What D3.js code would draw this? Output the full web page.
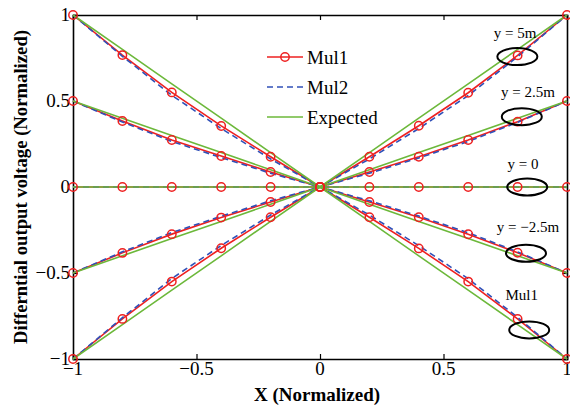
<!DOCTYPE html>
<html>
<head>
<meta charset="utf-8">
<script src="https://cdn.jsdelivr.net/npm/d3@7"></script>
<style>
  body { margin: 0; background: #fff; }
</style>
</head>
<body>
<div id="chart"></div>
<script>
// x positions of the sample points
var xValues = [-1, -0.8, -0.6, -0.4, -0.2, 0, 0.2, 0.4, 0.6, 0.8, 1];

// Mul1 (red, circles) - one row per curve
var mul1Curves = [
  [-1, -0.767, -0.55, -0.356, -0.176, 0, 0.176, 0.356, 0.548, 0.765, 1],
  [-0.5, -0.383, -0.274, -0.178, -0.087, 0, 0.087, 0.176, 0.273, 0.38, 0.5],
  [0, 0, 0, 0, 0, 0, 0, 0, 0, 0, 0],
  [0.5, 0.384, 0.273, 0.18, 0.087, 0, -0.087, -0.176, -0.275, -0.382, -0.5],
  [1, 0.767, 0.55, 0.355, 0.176, 0, -0.176, -0.357, -0.55, -0.767, -1]
];

// Mul2 (blue dashed)
var mul2Curves = [
  [-1, -0.76, -0.532, -0.34, -0.163, 0, 0.163, 0.34, 0.532, 0.757, 1],
  [-0.5, -0.377, -0.265, -0.17, -0.08, 0, 0.08, 0.169, 0.265, 0.376, 0.5],
  [0, 0, 0, 0, 0, 0, 0, 0, 0, 0, 0],
  [0.5, 0.378, 0.265, 0.171, 0.08, 0, -0.08, -0.169, -0.266, -0.377, -0.5],
  [1, 0.76, 0.533, 0.34, 0.163, 0, -0.163, -0.341, -0.533, -0.758, -1]
];

// Expected (green)
var expectedCurves = [
  [-1, -0.8, -0.6, -0.4, -0.2, 0, 0.2, 0.4, 0.6, 0.8, 1],
  [-0.5, -0.4, -0.3, -0.2, -0.1, 0, 0.1, 0.2, 0.3, 0.4, 0.5],
  [0, 0, 0, 0, 0, 0, 0, 0, 0, 0, 0],
  [0.5, 0.4, 0.3, 0.2, 0.1, 0, -0.1, -0.2, -0.3, -0.4, -0.5],
  [1, 0.8, 0.6, 0.4, 0.2, 0, -0.2, -0.4, -0.6, -0.8, -1]
];

var tickValues = [-1, -0.5, 0, 0.5, 1];
var seriesNames = ["Mul1", "Mul2", "Expected"];

// annotation labels and ellipses (data coords)
var noteTexts = ["y = 5m", "y = 2.5m", "y = 0", "y = \u22122.5m", "Mul1"];
var noteTextX = [0.79, 0.842, 0.822, 0.842, 0.817];
var noteTextY = [0.866, 0.523, 0.105, -0.262, -0.657];
var ellipseX = [0.799, 0.817, 0.839, 0.834, 0.847];
var ellipseY = [0.758, 0.409, 0, -0.385, -0.831];

var width = 570, height = 405;
var margin = {left: 73, right: 3, top: 15, bottom: 46};
var serif = "'Liberation Serif', 'Times New Roman', Times, 'DejaVu Serif', serif";

var colRed = "#ee2020", colBlue = "#3050b8", colGreen = "#6cb83a";

var svg = d3.select("#chart").append("svg")
  .attr("width", width).attr("height", height)
  .attr("font-family", serif);

var x = d3.scaleLinear().domain([-1, 1]).range([margin.left, width - margin.right]);
var y = d3.scaleLinear().domain([-1, 1]).range([height - margin.bottom, margin.top]);

var fmt = function (d) { return d === 0 ? "0" : d3.format("")(d).replace("-", "\u2212"); };

// axes: ticks pointing inward, box all round
svg.append("g").attr("transform", "translate(0," + y(-1) + ")")
  .call(d3.axisTop(x).tickValues(tickValues).tickSize(5).tickFormat(""));
svg.append("g").attr("transform", "translate(0," + y(1) + ")")
  .call(d3.axisBottom(x).tickValues(tickValues).tickSize(5).tickFormat(""));
svg.append("g").attr("transform", "translate(" + x(-1) + ",0)")
  .call(d3.axisRight(y).tickValues(tickValues).tickSize(5).tickFormat(""));
svg.append("g").attr("transform", "translate(" + x(1) + ",0)")
  .call(d3.axisLeft(y).tickValues(tickValues).tickSize(5).tickFormat(""));
svg.selectAll(".domain").attr("stroke", "#000").attr("stroke-width", 1.6);
svg.selectAll(".tick line").attr("stroke", "#000").attr("stroke-width", 1.2);

// tick labels
svg.append("g").selectAll("text").data(tickValues).enter().append("text")
  .attr("x", function (d) { return x(d); })
  .attr("y", y(-1) + 16)
  .attr("text-anchor", "middle")
  .attr("font-family", serif)
  .attr("font-size", 19)
  .text(fmt);
svg.append("g").selectAll("text").data(tickValues).enter().append("text")
  .attr("x", x(-1) - 3)
  .attr("y", function (d) { return y(d) + 6; })
  .attr("text-anchor", "end")
  .attr("font-family", serif)
  .attr("font-size", 19)
  .text(fmt);

// axis titles
svg.append("text")
  .attr("x", (x(-1) + x(1)) / 2 - 3)
  .attr("y", 401)
  .attr("text-anchor", "middle")
  .attr("font-family", serif)
  .attr("font-size", 19).attr("font-weight", "bold")
  .text("X (Normalized)");
svg.append("text")
  .attr("transform", "translate(27," + y(0) + ") rotate(-90)")
  .attr("text-anchor", "middle")
  .attr("font-family", serif)
  .attr("font-size", 18.7).attr("font-weight", "bold")
  .text("Differntial output voltage (Normalized)");

var line = d3.line()
  .x(function (d, i) { return x(xValues[i]); })
  .y(function (d) { return y(d); });

var plot = svg.append("g");

plot.selectAll(".mul1").data(mul1Curves).enter().append("path")
  .attr("class", "mul1")
  .attr("d", line).attr("fill", "none")
  .attr("stroke", colRed).attr("stroke-width", 1.6);

plot.selectAll(".mul2").data(mul2Curves).enter().append("path")
  .attr("class", "mul2")
  .attr("d", line).attr("fill", "none")
  .attr("stroke", colBlue).attr("stroke-width", 1.6)
  .attr("stroke-dasharray", "6,4");

plot.selectAll(".expected").data(expectedCurves).enter().append("path")
  .attr("class", "expected")
  .attr("d", line).attr("fill", "none")
  .attr("stroke", colGreen).attr("stroke-width", 1.6);

// Mul1 markers
mul1Curves.forEach(function (curve) {
  plot.append("g").selectAll("circle").data(curve).enter().append("circle")
    .attr("cx", function (d, i) { return x(xValues[i]); })
    .attr("cy", function (d) { return y(d); })
    .attr("r", 4.2)
    .attr("fill", "none")
    .attr("stroke", colRed).attr("stroke-width", 1.5);
});

// annotations
svg.append("g").selectAll("ellipse").data(ellipseX).enter().append("ellipse")
  .attr("cx", function (d) { return x(d); })
  .attr("cy", function (d, i) { return y(ellipseY[i]); })
  .attr("rx", 20).attr("ry", 8.5)
  .attr("fill", "none").attr("stroke", "#000").attr("stroke-width", 2);

svg.append("g").selectAll("text").data(noteTexts).enter().append("text")
  .attr("x", function (d, i) { return x(noteTextX[i]); })
  .attr("y", function (d, i) { return y(noteTextY[i]); })
  .attr("text-anchor", "middle")
  .attr("font-family", serif)
  .attr("font-size", 15)
  .text(function (d) { return d; });

// legend
var legend = svg.append("g").attr("transform", "translate(267,57)");
seriesNames.forEach(function (name, i) {
  var row = legend.append("g").attr("transform", "translate(0," + (i * 30) + ")");
  var ln = row.append("line").attr("x1", 0).attr("x2", 36).attr("y1", 0).attr("y2", 0)
    .attr("stroke-width", 1.6);
  if (i === 0) {
    ln.attr("stroke", colRed);
    row.append("circle").attr("cx", 18).attr("cy", 0).attr("r", 4.2)
      .attr("fill", "none").attr("stroke", colRed).attr("stroke-width", 1.5);
  } else if (i === 1) {
    ln.attr("stroke", colBlue).attr("stroke-dasharray", "6,4");
  } else {
    ln.attr("stroke", colGreen);
  }
  row.append("text").attr("x", 40).attr("y", 6.5)
    .attr("font-family", serif)
    .attr("font-size", 19).text(name);
});
</script>
</body>
</html>
